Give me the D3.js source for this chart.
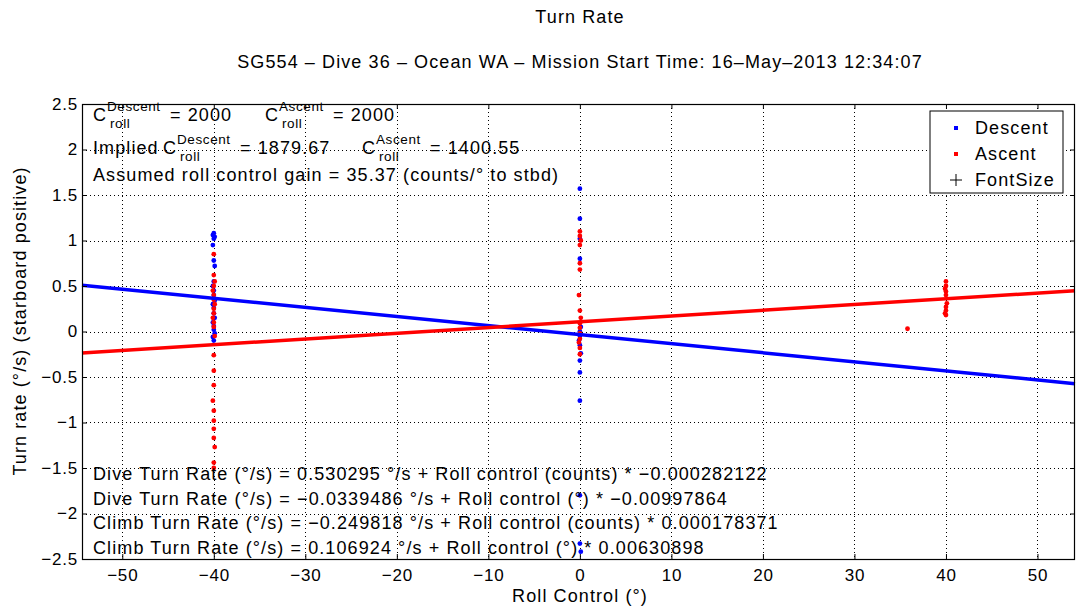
<!DOCTYPE html>
<html>
<head>
<meta charset="utf-8">
<script src="https://d3js.org/d3.v7.min.js"></script>
<title>Turn Rate</title>
<style>
  body { margin: 0; background: #fff; }
  svg text { font-family: "Liberation Sans", Arial, Helvetica, sans-serif; fill: #000; }
  .lbl { font-size: 18px; letter-spacing: 1.1px; }
  .sm { font-size: 13.5px; letter-spacing: 0.6px; }
  .tick text { font-size: 17px; letter-spacing: 0.8px; }
</style>
</head>
<body>
<div id="chart"></div>
<script>
// values
var xTicks = [-50, -40, -30, -20, -10, 0, 10, 20, 30, 40, 50];
var yTicks = [-2.5, -2, -1.5, -1, -0.5, 0, 0.5, 1, 1.5, 2, 2.5];

var descentX = [-40, -40.1, -39.9, -40, -40.1, -40, -39.9, -40, -40.1, -40, -40, -39.9, -40.1, -40, -40, -39.9, -40.1, -40, -40, -39.9, -40.1, -40,
                0, 0, 0, 0, 0.1, 0, 0, -0.1, 0, 0.1, 0, 0, 0, 0, 0, 0.1];
var descentY = [1.08, 1.06, 1.04, 1.02, 0.95, 0.78, 0.72, 0.55, 0.5, 0.45, 0.4, 0.34, 0.3, 0.26, 0.2, 0.15, 0.1, 0.06, 0.02, -0.02, -0.06, -0.1,
                1.57, 1.24, 1.02, 0.8, 0.05, 0.0, -0.05, -0.1, -0.15, -0.24, -0.32, -0.45, -0.76, -1.8, -2.33, -2.42];
var ascentX = [-40, -40, -39.9, -40, -40.1, -40, -40, -39.9, -40, -40, -40.1, -40, -40, -39.9, -40, -40, -40, -40.1, -40, -40, -40, -40, -39.9, -40, -40,
               0, 0, 0.1, 0, 0, 0, -0.1, 0, 0.1, 0, 0, 0, 0, -0.1, 0, 0,
               40, 40, 39.9, 40, 40, 40.1, 40, 40, 39.9, 40, 35.8];
var ascentY = [0.85, 0.62, 0.55, 0.5, 0.45, 0.4, 0.35, 0.3, 0.25, 0.2, 0.15, 0.1, 0.05, -0.05, -0.26, -0.43, -0.59, -0.76, -0.87, -0.98, -1.07, -1.17, -1.27, -1.44, -1.5,
               1.1, 1.05, 1.0, 0.95, 0.75, 0.68, 0.4, 0.23, 0.15, 0.09, 0.04, -0.02, -0.08, -0.12, -0.18, -0.25,
               0.55, 0.5, 0.47, 0.44, 0.4, 0.31, 0.27, 0.23, 0.2, 0.18, 0.03];

// linear fits: [intercept, slope]
var descentFit = [-0.0339486, -0.00997864];
var ascentFit = [0.106924, 0.00630898];

var width = 1079, height = 610;
var margin = {left: 82, right: 4, top: 104, bottom: 51};

var svg = d3.select('#chart').append('svg')
    .attr('width', width).attr('height', height);

var x = d3.scaleLinear().domain([-54.4, 54.1]).range([margin.left, width - margin.right]);
var y = d3.scaleLinear().domain([-2.5, 2.5]).range([height - margin.bottom, margin.top]);
var x0 = margin.left, x1 = width - margin.right, y0 = margin.top, y1 = height - margin.bottom;

// grid
var grid = svg.append('g').attr('stroke', '#000').attr('stroke-width', 1).attr('stroke-dasharray', '1,3');
grid.selectAll('.gx').data(xTicks).enter().append('line')
    .attr('x1', function(d) { return Math.round(x(d)) + 0.5; })
    .attr('x2', function(d) { return Math.round(x(d)) + 0.5; })
    .attr('y1', y0).attr('y2', y1);
grid.selectAll('.gy').data(yTicks.slice(1, -1)).enter().append('line')
    .attr('y1', function(d) { return Math.round(y(d)) + 0.5; })
    .attr('y2', function(d) { return Math.round(y(d)) + 0.5; })
    .attr('x1', x0).attr('x2', x1);

// points
function dots(xs, ys, color) {
  svg.append('g').selectAll('circle').data(xs).enter().append('circle')
     .attr('cx', function(d) { return x(d); })
     .attr('cy', function(d, i) { return y(ys[i]); })
     .attr('r', 2.4)
     .attr('fill', color);
}
dots(descentX, descentY, '#0000ff');
dots(ascentX, ascentY, '#ff0000');

// fit lines
function fitLine(fit, color) {
  var dom = x.domain();
  svg.append('line')
     .attr('x1', x(dom[0])).attr('y1', y(fit[0] + fit[1] * dom[0]))
     .attr('x2', x(dom[1])).attr('y2', y(fit[0] + fit[1] * dom[1]))
     .attr('stroke', color).attr('stroke-width', 3.5);
}
fitLine(descentFit, '#0000ff');
fitLine(ascentFit, '#ff0000');

// axes box + inward ticks
var minus = function(d) { return String(d).replace('-', '\u2212'); };
var gb = svg.append('g').attr('transform', 'translate(0,' + y1 + ')')
   .call(d3.axisBottom(x).tickValues(xTicks).tickSizeInner(-5).tickSizeOuter(0).tickFormat(minus));
gb.selectAll('text').attr('dy', '1.1em');
var gl = svg.append('g').attr('transform', 'translate(' + x0 + ',0)')
   .call(d3.axisLeft(y).tickValues(yTicks).tickSizeInner(-5).tickSizeOuter(0).tickFormat(minus));
gl.selectAll('text').attr('x', -4);
svg.append('g').attr('transform', 'translate(0,' + y0 + ')')
   .call(d3.axisTop(x).tickValues(xTicks).tickSizeInner(-5).tickSizeOuter(0).tickFormat(''));
svg.append('g').attr('transform', 'translate(' + x1 + ',0)')
   .call(d3.axisRight(y).tickValues(yTicks).tickSizeInner(-5).tickSizeOuter(0).tickFormat(''));
svg.selectAll('.domain').remove();
svg.selectAll('.tick line').attr('stroke', '#000');
svg.selectAll('.tick text').attr('font-family', null).attr('font-size', null);
svg.append('rect').attr('x', x0 + 0.5).attr('y', y0 + 0.5)
   .attr('width', x1 - x0 - 1).attr('height', y1 - y0)
   .attr('fill', 'none').attr('stroke', '#000').attr('stroke-width', 1.2);

// titles
svg.append('text').attr('class', 'lbl').attr('x', 580).attr('y', 23).attr('text-anchor', 'middle')
   .text('Turn Rate');
svg.append('text').attr('class', 'lbl').attr('x', 580).attr('y', 68).attr('text-anchor', 'middle')
   .text('SG554 \u2013 Dive 36 \u2013 Ocean WA \u2013 Mission Start Time: 16\u2013May\u20132013 12:34:07');
svg.append('text').attr('class', 'lbl').attr('x', 580).attr('y', 602).attr('text-anchor', 'middle')
   .text('Roll Control (\u00b0)');
svg.append('text').attr('class', 'lbl').attr('transform', 'translate(26,321) rotate(-90)').attr('text-anchor', 'middle')
   .text('Turn rate (\u00b0/s) (starboard positive)');

// annotations top-left: C with superscript/subscript
function txt(cls, px, py, s) {
  svg.append('text').attr('class', cls).attr('x', px).attr('y', py).text(s);
}
function cRoll(px, py, sup, rest) {
  txt('lbl', px, py, 'C');
  txt('sm', px + 14, py - 10, sup);
  txt('sm', px + 17, py + 7, 'roll');
  txt('lbl', px + (sup === 'Descent' ? 77 : 68), py, rest);
}
cRoll(93, 121, 'Descent', '= 2000');
cRoll(265, 121, 'Ascent', '= 2000');
txt('lbl', 93, 154, 'Implied');
cRoll(163, 154, 'Descent', '= 1879.67');
cRoll(362, 154, 'Ascent', '= 1400.55');
txt('lbl', 93, 181, 'Assumed roll control gain = 35.37 (counts/\u00b0 to stbd)');

// annotations bottom
var eqLines = [
  'Dive Turn Rate (\u00b0/s) = 0.530295 \u00b0/s + Roll control (counts) * \u22120.000282122',
  'Dive Turn Rate (\u00b0/s) = \u22120.0339486 \u00b0/s + Roll control (\u00b0) * \u22120.00997864',
  'Climb Turn Rate (\u00b0/s) = \u22120.249818 \u00b0/s + Roll control (counts) * 0.000178371',
  'Climb Turn Rate (\u00b0/s) = 0.106924 \u00b0/s + Roll control (\u00b0) * 0.00630898'
];
svg.selectAll('.eq').data(eqLines).enter().append('text')
   .attr('class', 'lbl')
   .attr('x', 93).attr('y', function(d, i) { return 480 + i * 24.5; })
   .text(function(d) { return d; });

// legend
var lg = svg.append('g').attr('transform', 'translate(930,111)');
lg.append('rect').attr('width', 133).attr('height', 82).attr('fill', '#fff').attr('stroke', '#000');
var legendItems = [['Descent', '#0000ff'], ['Ascent', '#ff0000'], ['FontSize', null]];
legendItems.forEach(function(it, i) {
  var cy = 17 + i * 26;
  if (it[1]) {
    lg.append('rect').attr('x', 24).attr('y', cy - 2).attr('width', 4).attr('height', 4).attr('fill', it[1]);
  } else {
    lg.append('path').attr('d', 'M20,' + cy + 'H32M26,' + (cy - 6) + 'V' + (cy + 6)).attr('stroke', '#000');
  }
  lg.append('text').attr('class', 'lbl').attr('x', 45).attr('y', cy + 6).text(it[0]);
});
</script>
</body>
</html>
